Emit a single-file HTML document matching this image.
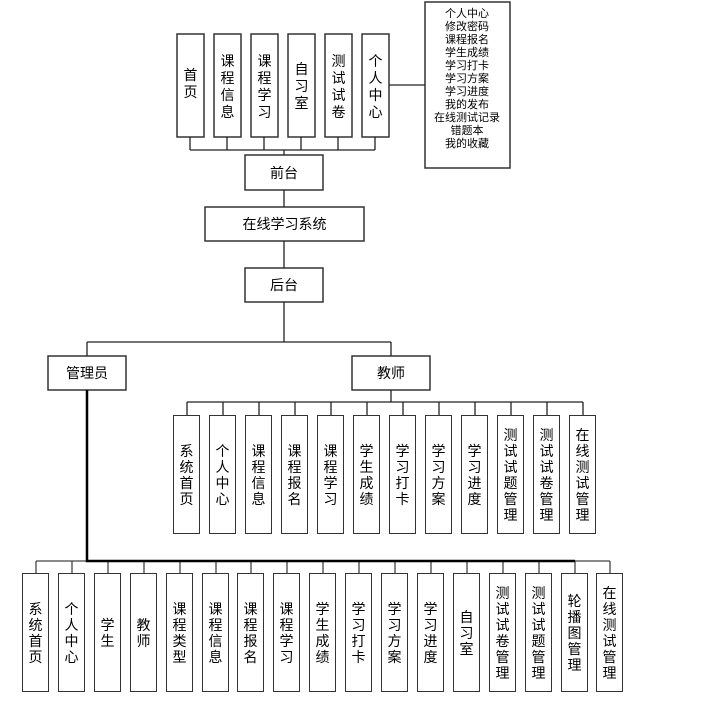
<!DOCTYPE html>
<html><head><meta charset="utf-8"><style>
html,body{margin:0;padding:0;background:#fff;}
#w{position:relative;width:702px;height:708px;overflow:hidden;}
svg{position:absolute;left:0;top:0;}
text{font-family:"Liberation Sans","Noto Sans CJK SC",sans-serif;fill:#000;}
.b{position:absolute;top:0;width:25px;height:117px;border:1.5px solid #333;display:flex;align-items:center;justify-content:center;background:#fff;font-family:"Liberation Sans","Noto Sans CJK SC",sans-serif;}
.b span{display:block;width:14px;font-size:14px;line-height:16px;word-break:break-all;text-align:center;color:#000;}
#tr .b{top:415px;}
#ad .b{top:573px;}
</style></head><body>
<div id="w">
<svg width="702" height="708" viewBox="0 0 702 708" xmlns="http://www.w3.org/2000/svg">
<g fill="#fff" stroke="#333" stroke-width="1.5">
<rect x="177" y="34" width="27" height="103"/>
<rect x="214" y="34" width="27" height="103"/>
<rect x="251" y="34" width="27" height="103"/>
<rect x="288" y="34" width="27" height="103"/>
<rect x="325" y="34" width="27" height="103"/>
<rect x="362" y="34" width="27" height="103"/>
<rect x="425" y="2" width="85" height="166"/>
<rect x="245" y="155" width="78" height="35"/>
<rect x="205" y="207" width="159" height="34"/>
<rect x="245" y="268" width="78" height="34"/>
<rect x="48" y="356" width="78" height="34"/>
<rect x="352" y="356" width="78" height="34"/>
</g>
<g stroke="#222" stroke-width="1.3" fill="none">
<path d="M190 137V150M227 137V150M264 137V150M301 137V150M338 137V150M375 137V150M190 150H375M284 150V155"/>
<path d="M389 85H425"/>
<path d="M284 190V207M284 241V268M284 302V342M87 342H391M87 342V356M391 342V356"/>
<path d="M391 390V402M187 402H583"/>
<path d="M187 402V415M223 402V415M259 402V415M295 402V415M331 402V415M367 402V415M403 402V415M439 402V415M475 402V415M511 402V415M547 402V415M583 402V415"/>
</g>
<g stroke="#444" stroke-width="1.3" fill="none">
<path d="M36 561H87M575 561H610"/>
<path d="M36 561V573M72 561V573M108 561V573M144 561V573M180 561V573M216 561V573M251 561V573M287 561V573M323 561V573M359 561V573M395 561V573M431 561V573M467 561V573M503 561V573M539 561V573M575 561V573M610 561V573"/>
</g>
<g stroke="#000" stroke-width="2.5" fill="none"><path d="M87 390V561H575"/></g>
<g font-size="14" text-anchor="middle">
<text x="190.5" y="80">首</text><text x="190.5" y="97">页</text>
<text x="227.5" y="66">课</text><text x="227.5" y="83">程</text><text x="227.5" y="100">信</text><text x="227.5" y="117">息</text>
<text x="264.5" y="66">课</text><text x="264.5" y="83">程</text><text x="264.5" y="100">学</text><text x="264.5" y="117">习</text>
<text x="301.5" y="74">自</text><text x="301.5" y="91">习</text><text x="301.5" y="108">室</text>
<text x="338.5" y="66">测</text><text x="338.5" y="83">试</text><text x="338.5" y="100">试</text><text x="338.5" y="117">卷</text>
<text x="375.5" y="66">个</text><text x="375.5" y="83">人</text><text x="375.5" y="100">中</text><text x="375.5" y="117">心</text>
<text x="284" y="178">前台</text>
<text x="284.5" y="229">在线学习系统</text>
<text x="284" y="290">后台</text>
<text x="87" y="378">管理员</text>
<text x="391" y="378">教师</text>
</g>
<g font-size="11" text-anchor="middle">
<text x="467" y="17">个人中心</text><text x="467" y="30">修改密码</text><text x="467" y="43">课程报名</text><text x="467" y="56">学生成绩</text><text x="467" y="69">学习打卡</text><text x="467" y="82">学习方案</text><text x="467" y="95">学习进度</text><text x="467" y="108">我的发布</text><text x="467" y="121">在线测试记录</text><text x="467" y="134">错题本</text><text x="467" y="147">我的收藏</text>
</g>
</svg>
<div id="tr">
<div class="b" style="left:173px"><span>系统首页</span></div>
<div class="b" style="left:209px"><span>个人中心</span></div>
<div class="b" style="left:245px"><span>课程信息</span></div>
<div class="b" style="left:281px"><span>课程报名</span></div>
<div class="b" style="left:317px"><span>课程学习</span></div>
<div class="b" style="left:353px"><span>学生成绩</span></div>
<div class="b" style="left:389px"><span>学习打卡</span></div>
<div class="b" style="left:425px"><span>学习方案</span></div>
<div class="b" style="left:461px"><span>学习进度</span></div>
<div class="b" style="left:497px"><span>测试试题管理</span></div>
<div class="b" style="left:533px"><span>测试试卷管理</span></div>
<div class="b" style="left:569px"><span>在线测试管理</span></div>
</div>
<div id="ad">
<div class="b" style="left:22px"><span>系统首页</span></div>
<div class="b" style="left:58px"><span>个人中心</span></div>
<div class="b" style="left:94px"><span>学生</span></div>
<div class="b" style="left:130px"><span>教师</span></div>
<div class="b" style="left:166px"><span>课程类型</span></div>
<div class="b" style="left:202px"><span>课程信息</span></div>
<div class="b" style="left:237px"><span>课程报名</span></div>
<div class="b" style="left:273px"><span>课程学习</span></div>
<div class="b" style="left:309px"><span>学生成绩</span></div>
<div class="b" style="left:345px"><span>学习打卡</span></div>
<div class="b" style="left:381px"><span>学习方案</span></div>
<div class="b" style="left:417px"><span>学习进度</span></div>
<div class="b" style="left:453px"><span>自习室</span></div>
<div class="b" style="left:489px"><span>测试试卷管理</span></div>
<div class="b" style="left:525px"><span>测试试题管理</span></div>
<div class="b" style="left:561px"><span>轮播图管理</span></div>
<div class="b" style="left:596px"><span>在线测试管理</span></div>
</div>
</div>
</body></html>
